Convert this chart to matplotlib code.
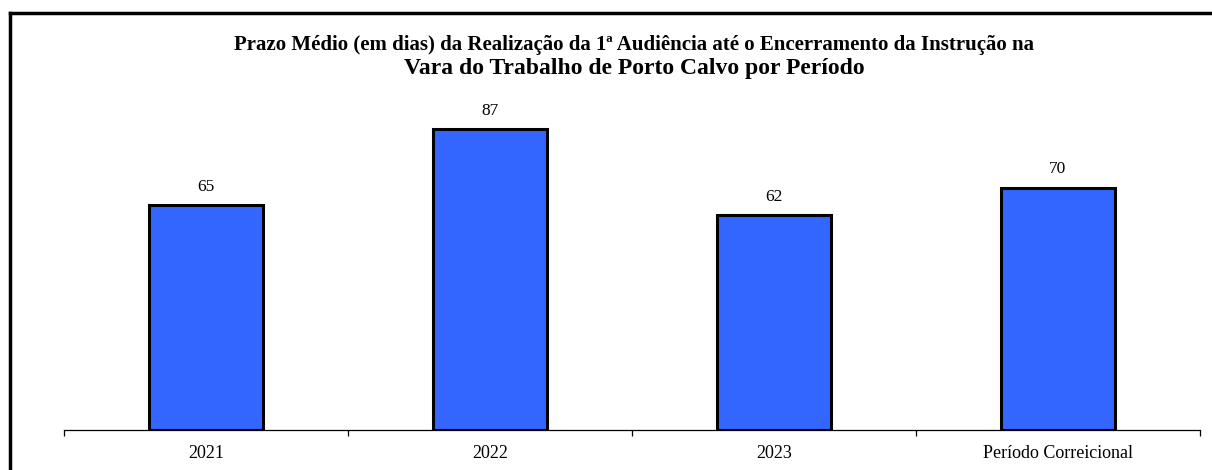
import matplotlib.pyplot as plt
from matplotlib.lines import Line2D
import numpy as np

categorias = ["2021", "2022", "2023", "Período Correicional"]
prazos = [65, 87, 62, 70]

plt.rcParams['font.family'] = ['Liberation Serif', 'DejaVu Serif']

fig = plt.figure(figsize=(12.12, 4.7), dpi=100)
ax = fig.add_axes([0.0528, 0.0851, 0.9372, 0.7362])

x = np.arange(len(categorias))
barras = ax.bar(x, prazos, width=0.4, color="#3366FF", edgecolor="black", linewidth=2.2)

for xi, v in zip(x, prazos):
    ax.text(xi, v + 3, str(v), ha="center", va="bottom", fontsize=12.5)

ax.set_xlim(-0.5, len(categorias) - 0.5)
ax.set_ylim(0, 100)
ax.set_yticks([])
for lado in ["top", "right", "left"]:
    ax.spines[lado].set_visible(False)
ax.spines["bottom"].set_linewidth(0.9)

# ticks nas divisas das categorias, rótulos no centro
ax.set_xticks(np.arange(len(categorias) + 1) - 0.5)
ax.set_xticklabels([])
ax.set_xticks(x, minor=True)
ax.set_xticklabels(categorias, minor=True, fontsize=13)
ax.tick_params(axis="x", which="major", direction="out", length=4, width=0.9)
ax.tick_params(axis="x", which="minor", length=0, pad=11)

fig.text(0.523, 0.905, "Prazo Médio (em dias) da Realização da 1ª Audiência até o Encerramento da Instrução na",
         ha="center", va="center", fontsize=15, fontweight="bold")
fig.text(0.523, 0.855, "Vara do Trabalho de Porto Calvo por Período",
         ha="center", va="center", fontsize=17, fontweight="bold")

# moldura
fig.add_artist(Line2D([10/1212, 1.0], [1 - 13/470, 1 - 13/470], color="black", linewidth=2.5))
fig.add_artist(Line2D([10/1212, 10/1212], [0, 1 - 13/470], color="black", linewidth=2.5))

fig.savefig("out.png", dpi=100)
